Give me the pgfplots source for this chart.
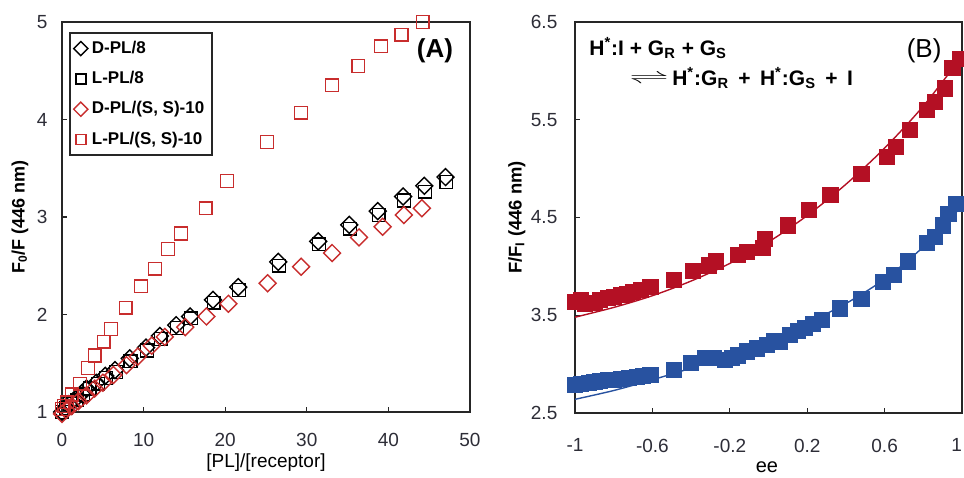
\documentclass[border=0pt]{standalone}
\usepackage{fontspec}
\setmainfont{Liberation Sans}
\usepackage{graphicx}
\usepackage{pgfplots}
\pgfplotsset{compat=1.18}
\definecolor{ared}{RGB}{200,45,45}
\definecolor{bred}{RGB}{180,16,36}
\definecolor{bblue}{RGB}{40,82,160}
\definecolor{tickgray}{RGB}{45,45,55}
\pgfplotsset{
  myax/.style={
    scale only axis, anchor=north west, clip=false,
    axis line style={line width=0.8pt, color=black!85},
    tick style={line width=0.6pt, color=black!85},
    tick align=inside, major tick length=2.5pt, tick pos=left,
    tick label style={font=\fontsize{9.5}{10}\selectfont, color=tickgray},
    /pgf/number format/assume math mode=true,
  }
}
\newcommand{\wsp}{\ \,}
\begin{document}
\begin{tikzpicture}
\path[use as bounding box] (0,0) rectangle (482pt,-238.5pt);
% ---------------- Panel A ----------------
\begin{axis}[myax,
  at={(31pt,-11pt)}, width=204pt, height=195pt,
  xmin=0, xmax=50, ymin=1, ymax=5,
  xtick={0,10,20,30,40,50}, ytick={1,2,3,4,5},
  xticklabel style={yshift=-7.3pt},
  yticklabel style={xshift=-3.8pt},
  xlabel={[PL]/[receptor]},
  xlabel style={at={(axis description cs:0.5,-0.1308)}, anchor=center, font=\fontsize{9.5}{10}\selectfont},
  ylabel={\bfseries F\textsubscript{0}/F (446 nm)},
  ylabel style={at={(axis description cs:-0.1029,0.5)}, anchor=center, font=\fontsize{9}{10}\selectfont},
  legend style={at={(0.017,0.974)}, anchor=north west, draw=black!85, line width=0.8pt,
    font=\bfseries\fontsize{8.5}{10}\selectfont, row sep=3.5pt, inner sep=2pt},
  legend cell align=left,
  legend image post style={mark size=2.5pt},
]
\addplot[only marks, mark=square, mark size=3pt, mark options={rotate=45, line width=0.7pt}, color=black] coordinates {
(0,1.00) (0.4,1.04) (0.8,1.08) (1.6,1.13) (2.4,1.19) (3.0,1.24) (4.2,1.30) (5.3,1.37)
(6.5,1.43) (8.3,1.55) (10.3,1.66) (12.0,1.78) (14.0,1.89) (15.7,1.98) (18.5,2.15)
(21.6,2.28) (26.5,2.54) (31.4,2.75) (35.2,2.92) (38.7,3.06) (41.8,3.21) (44.4,3.32) (47.0,3.41)
};
\addlegendentry{D-PL/8}
\addplot[only marks, mark=square, mark size=3.2pt, mark options={line width=0.7pt}, color=black] coordinates {
(0,1.00) (0.5,1.04) (1.0,1.08) (1.8,1.12) (2.6,1.18) (3.4,1.24) (4.4,1.29) (5.4,1.35)
(6.6,1.41) (8.4,1.52) (10.4,1.63) (12.1,1.75) (14.1,1.86) (15.8,1.96) (18.6,2.12)
(21.7,2.25) (26.6,2.50) (31.5,2.72) (35.3,2.88) (38.8,3.02) (41.9,3.17) (44.5,3.26) (47.1,3.36)
};
\addlegendentry{L-PL/8}
\addplot[only marks, mark=square, mark size=3pt, mark options={rotate=45, line width=0.7pt}, color=ared] coordinates {
(0,0.98) (0.5,1.02) (1.2,1.06) (2.0,1.11) (3.0,1.17) (4.0,1.24) (5.0,1.30) (6.3,1.38)
(7.9,1.48) (9.3,1.57) (11.0,1.68) (12.6,1.77) (15.1,1.87) (17.7,1.98) (20.4,2.11)
(25.2,2.32) (29.3,2.49) (33.1,2.63) (36.4,2.79) (39.3,2.90) (41.9,3.02) (44.1,3.09)
};
\addlegendentry{D-PL/(S, S)-10}
\addplot[only marks, mark=square, mark size=3.2pt, mark options={line width=0.7pt}, color=ared] coordinates {
(0,1.03) (0.2,1.06) (0.6,1.10) (1.2,1.18) (2.2,1.29) (3.2,1.45) (4.0,1.58) (5.1,1.72)
(6.0,1.85) (7.8,2.07) (9.7,2.29) (11.4,2.47) (13.0,2.67) (14.6,2.83) (17.6,3.09)
(20.2,3.37) (25.1,3.77) (29.3,4.07) (33.1,4.35) (36.3,4.55) (39.1,4.75) (41.6,4.87) (44.2,5.00)
};
\addlegendentry{L-PL/(S, S)-10}
\node[font=\bfseries\fontsize{13}{14}\selectfont] at (axis cs:45.7,4.70) {(A)};
\end{axis}
% ---------------- Panel B ----------------
\begin{axis}[myax,
  at={(287.5pt,-11pt)}, width=193.5pt, height=195.5pt,
  xmin=-1, xmax=1, ymin=2.5, ymax=6.5,
  xtick={-1,-0.6,-0.2,0.2,0.6,1}, xticklabels={-1,-0.6,-0.2,0.2,0.6,\makebox[0pt][r]{1}},
  ytick={2.5,3.5,4.5,5.5,6.5}, yticklabels={2.5,3.5,4.5,5.5,6.5},
  xticklabel style={yshift=-9.4pt},
  yticklabel style={xshift=-5.3pt},
  xlabel={ee},
  xlabel style={at={(axis description cs:0.496,-0.138)}, anchor=center, font=\fontsize{10}{11}\selectfont},
  ylabel={\bfseries F/F\textsubscript{I} (446 nm)},
  ylabel style={at={(axis description cs:-0.15,0.5)}, anchor=center, font=\fontsize{9.2}{10}\selectfont},
]
\addplot[color=bred, line width=0.7pt, smooth] coordinates {
(-1,3.48) (-0.8,3.58) (-0.6,3.70) (-0.4,3.85) (-0.2,4.03) (0,4.25) (0.2,4.52) (0.4,4.84) (0.6,5.21) (0.8,5.64) (1.0,6.15)
};
\addplot[color=bblue, line width=0.7pt, smooth] coordinates {
(-1,2.64) (-0.8,2.73) (-0.6,2.84) (-0.4,2.96) (-0.2,3.10) (0,3.25) (0.2,3.42) (0.4,3.62) (0.6,3.87) (0.8,4.20) (1.0,4.62)
};
\addplot[only marks, mark=square*, mark size=3.8pt, color=bred] coordinates {
(-1.0,3.64) (-0.97,3.66) (-0.95,3.62) (-0.90,3.63) (-0.87,3.66) (-0.83,3.68) (-0.80,3.69)
(-0.76,3.71) (-0.73,3.72) (-0.70,3.74) (-0.66,3.76) (-0.61,3.79) (-0.49,3.86) (-0.39,3.95)
(-0.31,4.01) (-0.27,4.05) (-0.16,4.12) (-0.11,4.15) (-0.03,4.19) (-0.02,4.28) (0.10,4.42)
(0.21,4.58) (0.32,4.73) (0.48,4.95) (0.61,5.12) (0.66,5.22) (0.73,5.40) (0.82,5.60)
(0.86,5.68) (0.91,5.82) (0.95,6.03) (0.99,6.12)
};
\addplot[only marks, mark=square*, mark size=3.8pt, color=bblue] coordinates {
(-1.0,2.79) (-0.97,2.80) (-0.93,2.81) (-0.90,2.82) (-0.87,2.83) (-0.83,2.84) (-0.80,2.84)
(-0.76,2.85) (-0.72,2.86) (-0.68,2.87) (-0.65,2.88) (-0.61,2.89) (-0.49,2.94) (-0.40,3.01)
(-0.33,3.06) (-0.285,3.06) (-0.225,3.04) (-0.19,3.06) (-0.16,3.09) (-0.11,3.13) (-0.06,3.16)
(-0.01,3.20) (0.03,3.24) (0.06,3.23) (0.11,3.30) (0.15,3.34) (0.19,3.37) (0.23,3.41)
(0.275,3.45) (0.37,3.57) (0.48,3.67) (0.59,3.84) (0.65,3.91) (0.72,4.05) (0.82,4.24)
(0.86,4.30) (0.90,4.42) (0.93,4.54) (0.97,4.64)
};
\node[anchor=base west, inner sep=0pt, font=\bfseries\fontsize{10.5}{12}\selectfont] at (axis cs:-0.928,6.162)
  {H\textsuperscript{*}:I + G\textsubscript{R} + G\textsubscript{S}};
\node[anchor=base west, inner sep=0pt, font=\bfseries\fontsize{10.5}{12}\selectfont] at (axis cs:-0.721,5.855)
  {\raisebox{1pt}{\scalebox{1.8}[0.8]{$\rightleftharpoons$}}\,H\textsuperscript{*}:G\textsubscript{R}\wsp+\wsp H\textsuperscript{*}:G\textsubscript{S}\wsp+\wsp I};
\node[font=\fontsize{13}{14}\selectfont] at (axis cs:0.804,6.203) {(B)};
\end{axis}
\end{tikzpicture}
\end{document}
